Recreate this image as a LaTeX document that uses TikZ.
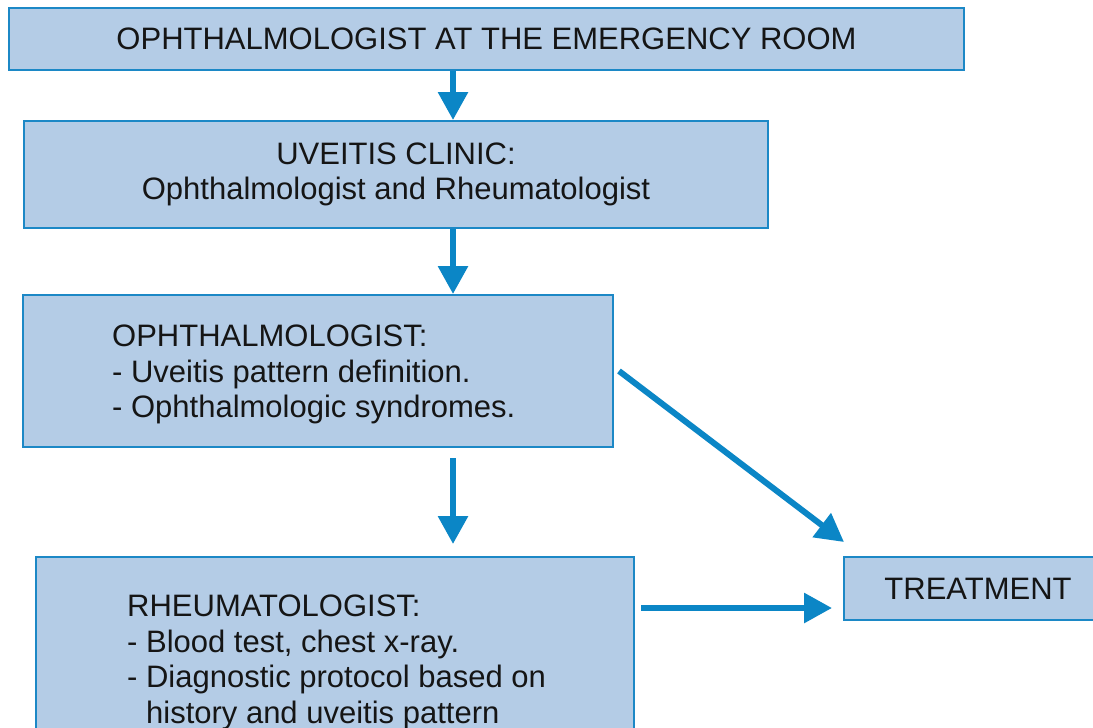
\documentclass[tikz,border=0pt]{standalone}
\usepackage{fontspec}
\setmainfont{Liberation Sans}
\usetikzlibrary{arrows.meta}
\definecolor{boxfill}{HTML}{B4CCE6}
\definecolor{boxline}{HTML}{1C88C6}
\definecolor{arrowblue}{HTML}{0B86C6}
\definecolor{txt}{HTML}{151515}
\begin{document}
\begin{tikzpicture}[x=1pt,y=-1pt,
  box/.style={draw=boxline, fill=boxfill, line width=2pt, rectangle, inner sep=0pt, text=txt, font=\fontsize{31}{35}\selectfont, align=center},
  lbl/.style={text=txt, font=\fontsize{31}{35.5}\selectfont, align=left, inner sep=0pt},
  arr/.style={draw=arrowblue, line width=6pt, -{Triangle[length=28pt,width=29pt]}}
]
\useasboundingbox (0,0) rectangle (1093,728);
\clip (0,0) rectangle (1093,728);
\fill[white] (0,0) rectangle (1093,728);

\node[box, minimum width=955pt, minimum height=62pt] (box1) at (486.5,39) {OPHTHALMOLOGIST AT THE EMERGENCY ROOM};
\node[box, minimum width=744pt, minimum height=107pt] (box2) at (396,174.5) {UVEITIS CLINIC:\\Ophthalmologist and Rheumatologist};
\node[box, minimum width=590pt, minimum height=152pt] (box3) at (318,371) {};
\node[lbl, anchor=north west] (box3text) at (112,325) {OPHTHALMOLOGIST:\\- Uveitis pattern definition.\\- Ophthalmologic syndromes.};
\node[box, minimum width=598pt, minimum height=286pt] (box4) at (335,700) {};
\node[lbl, anchor=north west] (box4text) at (127,595) {RHEUMATOLOGIST:\\- Blood test, chest x-ray.\\- Diagnostic protocol based on\\\phantom{- }history and uveitis pattern};
\node[box, minimum width=268pt, minimum height=63pt] (treat) at (978,588.5) {TREATMENT};

\coordinate (ax) at (453,0);
\coordinate (hy) at (0,608);

\draw[arr] (box1.south -| ax) -- (box2.north -| ax);
\draw[arr] (box2.south -| ax) -- (box3.north -| ax);
\draw[arr] ([yshift=-10pt]box3.south -| ax) -- ([yshift=12pt]box4.north -| ax);
\draw[arr] ([xshift=5pt]box3.east) -- ([shift={(1pt,14pt)}]treat.north west);
\draw[arr] ([xshift=6pt]box4.east |- hy) -- ([xshift=-11pt]treat.west |- hy);
\end{tikzpicture}
\end{document}
